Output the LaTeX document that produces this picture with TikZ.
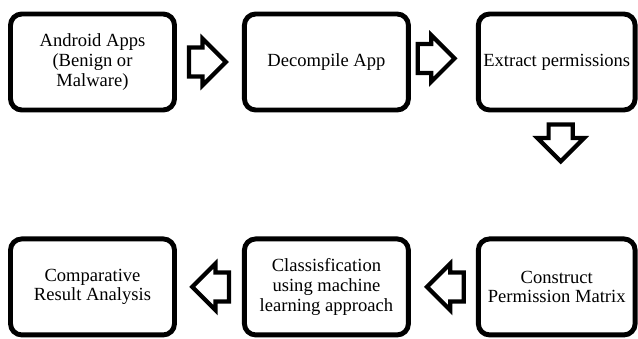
\documentclass[tikz,border=0pt]{standalone}
\usepackage{fontspec}
\setmainfont{Liberation Serif}
\usepackage{tikz}
\usetikzlibrary{shapes,arrows,positioning}
\usetikzlibrary{calc}
\tikzstyle{block} = [rectangle, draw, line width=3.5pt, rounded corners=8pt, align=center, minimum width=4.1cm, minimum height=2.4cm, font=\fontsize{13.2}{14}\selectfont]
\tikzstyle{narrowblock} = [block, minimum width=3.92cm]
\tikzstyle{blockarrow} = [single arrow, draw, line width=3pt, inner xsep=0pt, inner ysep=0.31cm, minimum height=0.92cm, single arrow head extend=0.22cm]
\tikzstyle{downarrow} = [blockarrow, shape border rotate=270, inner xsep=0.25cm, inner ysep=0pt, single arrow head extend=0.28cm]

\begin{document}
\begin{tikzpicture}[node distance=3.1cm and 1.625cm]
            \useasboundingbox (0,0) rectangle (15.95,-8.45);
            \node [block] (andr) at (2.3125,-1.55) {Android Apps\\(Benign or\\Malware)};
            \node [block, right= of andr] (dec) {Decompile App};
            \node [narrowblock, right= of dec] (ext) {Extract permissions};
            \node [narrowblock, below= of ext] (con) {Construct\\Permission Matrix};
            \node [block, left= of con] (cls) {Classisfication\\using machine\\learning approach};
            \node [block, left= of cls] (cmp) {Comparative\\Result Analysis};

            \node [blockarrow, right=0.25cm of andr] (arr1) {};
            \node [blockarrow, right=0.12cm of dec, yshift=0.09cm] (arr2) {};
            \node [downarrow, below=0.25cm of ext, xshift=0.1cm] (arr3) {};
            \node [blockarrow, shape border rotate=180, left=0.25cm of con] (arr4) {};
            \node [blockarrow, shape border rotate=180, left=0.27cm of cls] (arr5) {};
        \end{tikzpicture}
\end{document}
